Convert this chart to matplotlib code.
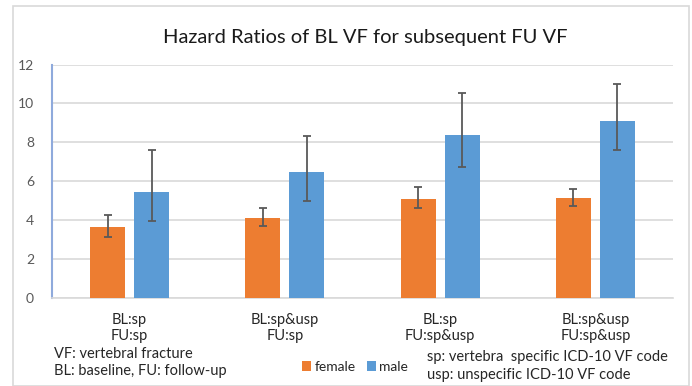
import numpy as np
import matplotlib
matplotlib.use("Agg")
import matplotlib.pyplot as plt
from matplotlib.patches import Rectangle

plt.rcParams['font.family'] = ['Lato', 'DejaVu Sans']

categories = ['BL:sp\nFU:sp', 'BL:sp&usp\nFU:sp', 'BL:sp\nFU:sp&usp', 'BL:sp&usp\nFU:sp&usp']
female_hr = [3.66, 4.12, 5.09, 5.14]
female_lo = [3.14, 3.69, 4.63, 4.75]
female_hi = [4.29, 4.65, 5.69, 5.61]
male_hr = [5.47, 6.46, 8.38, 9.09]
male_lo = [3.98, 4.97, 6.73, 7.59]
male_hi = [7.61, 8.31, 10.51, 10.99]
yticks = [0, 2, 4, 6, 8, 10, 12]

orange = '#ED7D31'
blue = '#5B9BD5'
grey_txt = '#595959'
dark_txt = '#262626'

W, H = 692, 386
fig = plt.figure(figsize=(W / 100, H / 100), dpi=100)

# outer chart frame
fig.patches.append(Rectangle((12.5 / W, 0.0), 676 / W, (H - 5.5) / H,
                             transform=fig.transFigure, fill=False,
                             edgecolor='#d9d9d9', linewidth=1.2))

ax = fig.add_axes([52 / W, (H - 298) / H, 621 / W, 233.5 / H])

x = np.arange(len(categories))
bw = 0.225
off = 0.142
f_err = [np.array(female_hr) - np.array(female_lo), np.array(female_hi) - np.array(female_hr)]
m_err = [np.array(male_hr) - np.array(male_lo), np.array(male_hi) - np.array(male_hr)]
ekw = dict(ecolor='#595959', elinewidth=1.3, capsize=3, capthick=1.3)
ax.bar(x - off, female_hr, bw, color=orange, yerr=f_err, error_kw=ekw, zorder=3, label='female')
ax.bar(x + off, male_hr, bw, color=blue, yerr=m_err, error_kw=ekw, zorder=3, label='male')

ax.set_xlim(-0.5, len(categories) - 0.5)
ax.set_ylim(0, 12)
ax.set_yticks(yticks)
ax.set_xticks(x)
ax.set_xticklabels(categories, fontsize=10.5, color=dark_txt, linespacing=1.15)
ax.tick_params(axis='y', labelsize=10, colors=grey_txt, length=0, pad=13)
ax.tick_params(axis='x', length=0, pad=11)
ax.yaxis.grid(True, color='#d9d9d9', linewidth=1.2, zorder=0)
ax.set_axisbelow(True)
for s in ['top', 'right']:
    ax.spines[s].set_visible(False)
ax.spines['left'].set_color('#8faadc')
ax.spines['left'].set_linewidth(1.5)
ax.spines['bottom'].set_color('#d9d9d9')
ax.spines['bottom'].set_linewidth(1.2)

fig.text(365 / W, 1 - 37 / H, 'Hazard Ratios of BL VF for subsequent FU VF',
         ha='center', va='center', fontsize=14.5, color='#1a1a1a')

fig.text(54 / W, 1 - 354 / H, 'VF: vertebral fracture', ha='left', va='center',
         fontsize=10.5, color=dark_txt)
fig.text(54 / W, 1 - 371 / H, 'BL: baseline, FU: follow-up', ha='left', va='center',
         fontsize=10.5, color=dark_txt)
fig.text(427 / W, 1 - 357 / H, 'sp: vertebra  specific ICD-10 VF code', ha='left', va='center',
         fontsize=10.5, color=dark_txt)
fig.text(427 / W, 1 - 375 / H, 'usp: unspecific ICD-10 VF code', ha='left', va='center',
         fontsize=10.5, color=dark_txt)

fig.legend(loc='center', bbox_to_anchor=(355 / W, 1 - 367 / H), ncol=2, frameon=False,
           fontsize=10, handlelength=0.65, handleheight=0.65, handletextpad=0.25,
           columnspacing=0.8, labelcolor=dark_txt)

fig.savefig('out.png', dpi=100)
